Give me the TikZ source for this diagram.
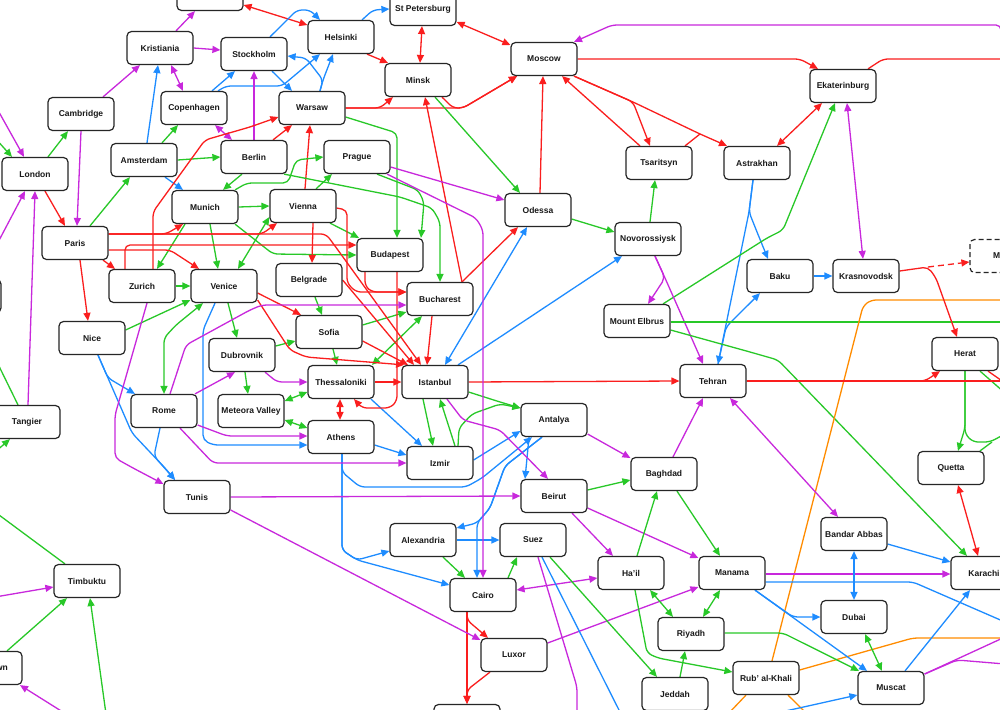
\documentclass[tikz,border=0pt]{standalone}
\usepackage{fontspec}
\setmainfont{Liberation Sans}
\usetikzlibrary{arrows.meta}
\pgfdeclarelayer{bg}
\pgfsetlayers{bg,main}
\definecolor{cR}{RGB}{250,30,30}
\definecolor{cG}{RGB}{40,200,40}
\definecolor{cB}{RGB}{30,140,255}
\definecolor{cM}{RGB}{200,40,220}
\definecolor{cO}{RGB}{255,140,0}
\begin{document}
\begin{tikzpicture}[x=1pt,y=-1pt,
 city/.style={draw=black!85,fill=white,rounded corners=4.5pt,line width=1.2pt,minimum width=66pt,minimum height=33pt,inner sep=0pt,font=\bfseries\fontsize{8.5}{10}\selectfont,text=black!90},
 ghost/.style={city,dashed,dash pattern=on 5pt off 3pt},
 ln/.style={line width=1.3pt,rounded corners=5pt},
 eR/.style={ln,draw=cR},
 eG/.style={ln,draw=cG},
 eB/.style={ln,draw=cB},
 eM/.style={ln,draw=cM},
 eO/.style={ln,draw=cO},
 ar/.style={-{Triangle[length=8pt,width=7pt]}},
 dar/.style={{Triangle[length=8pt,width=7pt]}-{Triangle[length=8pt,width=7pt]}},
]
\useasboundingbox (0,0) rectangle (1000,709);
% ---------- nodes ----------
\node[city] (tb) at (210,-6) {};
\node[city] (StP) at (423,9) {St Petersburg};
\node[city] (Hel) at (341,37) {Helsinki};
\node[city] (Sto) at (254,54) {Stockholm};
\node[city] (Kri) at (160,48) {Kristiania};
\node[city] (Min) at (418,80) {Minsk};
\node[city] (Mos) at (544,59) {Moscow};
\node[city] (Eka) at (843,86) {Ekaterinburg};
\node[city] (Cam) at (81,114) {Cambridge};
\node[city] (Cop) at (194,108) {Copenhagen};
\node[city] (War) at (312,108) {Warsaw};
\node[city] (Lon) at (35,174) {London};
\node[city] (Ams) at (144,160) {Amsterdam};
\node[city] (Ber) at (254,157) {Berlin};
\node[city] (Pra) at (357,157) {Prague};
\node[city] (Mun) at (205,207) {Munich};
\node[city] (Vie) at (303,206) {Vienna};
\node[city] (Par) at (75,243) {Paris};
\node[city] (Tsa) at (659,163) {Tsaritsyn};
\node[city] (Ast) at (757,163) {Astrakhan};
\node[city] (Ode) at (538,210) {Odessa};
\node[city] (Nov) at (648,239) {Novorossiysk};
\node[city] (Zur) at (142,286) {Zurich};
\node[city] (Ven) at (224,286) {Venice};
\node[city] (LB) at (-32,296) {};
\node[city] (Nic) at (92,338) {Nice};
\node[city] (Bud) at (390,255) {Budapest};
\node[city] (Bel) at (309,280) {Belgrade};
\node[city] (Buc) at (440,299) {Bucharest};
\node[city] (Sof) at (329,332) {Sofia};
\node[city] (Dub) at (242,355) {Dubrovnik};
\node[city] (The) at (341,382) {Thessaloniki};
\node[city] (Ist) at (435,382) {Istanbul};
\node[city] (Met) at (251,411) {Meteora Valley};
\node[city] (Ath) at (341,437) {Athens};
\node[city] (Rom) at (164,411) {Rome};
\node[city] (Tan) at (27,422) {Tangier};
\node[city] (Izm) at (440,463) {Izmir};
\node[city] (Ant) at (554,420) {Antalya};
\node[city] (Teh) at (713,381) {Tehran};
\node[city] (Elb) at (637,321) {Mount Elbrus};
\node[city] (Bak) at (780,276) {Baku};
\node[city] (Kra) at (866,276) {Krasnovodsk};
\node[ghost] (Mer) at (1003,256) {Merv};
\node[city] (Her) at (965,354) {Herat};
\node[city] (Que) at (951,468) {Quetta};
\node[city] (Bag) at (664,474) {Baghdad};
\node[city] (Bei) at (554,496) {Beirut};
\node[city] (Tun) at (197,497) {Tunis};
\node[city] (Ale) at (423,540) {Alexandria};
\node[city] (Sue) at (533,540) {Suez};
\node[city] (Hai) at (631,573) {Ha'il};
\node[city] (Man) at (732,573) {Manama};
\node[city] (Ban) at (854,534) {Bandar Abbas};
\node[city] (Kar) at (984,573) {Karachi};
\node[city] (Cai) at (483,595) {Cairo};
\node[city] (Tim) at (87,581) {Timbuktu};
\node[city] (Fre) at (-11,668) {Freetown};
\node[city] (Lux) at (514,655) {Luxor};
\node[city] (Riy) at (691,634) {Riyadh};
\node[city] (Dui) at (854,617) {Dubai};
\node[city] (Rub) at (766,678) {Rub' al-Khali};
\node[city] (Mus) at (891,688) {Muscat};
\node[city] (Jed) at (675,694) {Jeddah};
\node[city] (BB) at (467,721) {};
% ---------- free ends ----------
\coordinate (oA) at (-5,105);
\coordinate (oB) at (-5,138);
\coordinate (oC) at (-5,248);
\coordinate (oE) at (1005,322);
\coordinate (oF) at (1005,300);
\coordinate (oG) at (1005,638);
\coordinate (oH) at (728,714);
\coordinate (oI) at (807,714);
\coordinate (oJ) at (1005,434);
\coordinate (oK) at (1005,393);
\coordinate (oL) at (1005,383);
\coordinate (oM) at (1005,381);
\coordinate (oN) at (1005,59);
\coordinate (oP) at (1001,50);
\coordinate (oQ) at (577,714);
\coordinate (oR) at (621,714);
\coordinate (oS) at (1005,622);
\coordinate (oT) at (772,714);
\coordinate (oU) at (1005,637);
\coordinate (oV) at (1005,664);
\coordinate (oW) at (-5,358);
\coordinate (oX) at (-5,452);
\coordinate (oY) at (-5,512);
\coordinate (oZ) at (106,714);
\coordinate (oAA) at (-5,597);
\coordinate (oAB) at (66,714);
\begin{pgfonlayer}{bg}
\fill[white] (0,0) rectangle (1000,709);
% ---- north ----
\draw[eM,ar] ([xshift=16pt]Kri.north) -- ([xshift=-15pt]tb.south);
\draw[eR,dar] ([yshift=-11pt]tb.east) -- ([yshift=12pt]Hel.west);
\draw[eB,ar] ([xshift=16pt]Sto.north) -- (297,10) -- (310,10) -- ([xshift=-21pt]Hel.north);
\draw[eB,ar] ([xshift=21pt]Hel.north) -- (373,10) -- (StP.west);
\draw[eB,ar] ([xshift=8pt]War.north) -- (323,80) -- ([xshift=-8pt]Hel.south);
\draw[eB,ar] ([xshift=8pt]War.north) -- (323,80) -- (306,58) -- ([yshift=-2pt]Sto.east);
\draw[eB,ar] ([xshift=18pt]Sto.south) -- ([xshift=-20pt]War.north);
\draw[eB,ar] ([xshift=18pt]Cop.north) -- ([xshift=-19pt]Sto.south);
\draw[eB,ar] ([xshift=24pt]Cop.north) -- (226,86) -- (282,86) -- ([xshift=-21pt]Hel.south);
\draw[eM,ar] (Kri.east) -- ([yshift=4pt]Sto.west);
\draw[eM,dar] ([xshift=11pt]Kri.south) -- ([xshift=-11pt]Cop.north);
\draw[eB,ar] ([xshift=3pt]Ams.north) -- ([xshift=-2pt]Kri.south);
\draw[eM,ar] ([xshift=22pt]Cam.north) -- ([xshift=-20pt]Kri.south);
\draw[eG,ar] ([xshift=13pt]Lon.north) -- ([xshift=-13pt]Cam.south);
\draw[eM,ar] (Cam.south) -- ([xshift=2pt]Par.north);
\draw[eM,ar] (oA) -- ([xshift=-11pt]Lon.north);
\draw[eG,ar] (oB) -- ([xshift=-23pt]Lon.north);
\draw[eM,ar] (oC) -- ([xshift=-10pt]Lon.south);
\draw[eM,ar] ([xshift=1pt]Tan.north) -- (Lon.south);
\draw[eR,ar] ([xshift=10pt]Lon.south) -- ([xshift=-10pt]Par.north);
\draw[eG,ar] ([xshift=15pt]Par.north) -- ([xshift=-14pt]Ams.south);
\draw[eG,ar] (Ams.east) -- (Ber.west);
\draw[eG,ar] ([xshift=18pt]Ams.north) -- ([xshift=-16pt]Cop.south);
\draw[eB,ar] ([xshift=21pt]Ams.south) -- ([xshift=-22pt]Mun.north);
\draw[eM,dar] ([xshift=21pt]Cop.south) -- ([xshift=-22pt]Ber.north);
\draw[eM,ar] (Ber.north) -- (Sto.south);
\draw[eR,ar] ([xshift=11pt]Zur.north) -- (153,212) -- (205,140) -- (250,127) -- ([yshift=-9pt]War.west);
\draw[eR,ar] ([xshift=19pt]Ber.north) -- ([xshift=-20pt]War.south);
\draw[eR,ar] ([xshift=2pt]Vie.north) -- ([xshift=-2pt]War.south);
\draw[eR,ar] (War.east) -- (380,108) -- ([xshift=-25pt]Min.south);
\draw[eR,ar] (War.east) -- (463,108) -- ([xshift=-27pt]Mos.south);
\draw[eR,ar] ([xshift=24pt]Min.south) -- (453,108) -- (463,108) -- ([xshift=-27pt]Mos.south);
\draw[eR,ar] ([xshift=26pt]Hel.south) -- ([xshift=-30pt]Min.north);
\draw[eR,dar] ([xshift=-1pt]StP.south) -- ([xshift=2pt]Min.north);
\draw[eR,dar] ([yshift=-13pt]StP.east) -- ([yshift=14pt]Mos.west);
\draw[eR,ar] ([xshift=22pt]Buc.north) -- ([xshift=7pt]Min.south);
\draw[eG,ar] ([xshift=17pt]Min.south) -- ([xshift=-18pt]Ode.north);
\draw[eG,ar] ([yshift=-9pt]War.east) -- (397,133) -- ([xshift=7pt]Bud.north);
\draw[eG,ar] ([xshift=30pt]Mun.north) -- (247,183) -- (288,183) -- (296,160) -- (Pra.west);
\draw[eG,ar] ([xshift=13pt]Vie.north) -- ([xshift=-25pt]Pra.south);
\draw[eG,ar] ([xshift=30pt]Ber.south) -- (400,197) -- (432,208) -- (440,222) -- (Buc.north);
\draw[eG,ar] ([xshift=-12pt]Ber.south) -- ([xshift=18pt]Mun.north);
\draw[eG,ar] (Mun.east) -- (Vie.west);
\draw[eG,ar] ([xshift=27pt]Vie.south) -- ([xshift=-31pt]Bud.north);
\draw[eG,ar] ([xshift=20pt]Pra.south) -- (418,190) -- (424,202) -- ([xshift=31pt]Bud.north);
\draw[eG,ar] ([xshift=30pt]Mun.south) -- (273,254) -- (Bud.west);
\draw[eG,ar] ([xshift=-20pt]Mun.south) -- ([xshift=15pt]Zur.north);
\draw[eG,ar] ([xshift=5pt]Mun.south) -- ([xshift=-6pt]Ven.north);
\draw[eG,dar] ([xshift=14pt]Ven.north) -- ([yshift=-11pt]Vie.west);
% ---- Balkans ----
\draw[eG,ar] (Zur.east) -- (Ven.west);
\draw[eG,ar] ([yshift=8pt]Nic.east) -- ([yshift=-14pt]Ven.west);
\draw[eG,dar] (Rom.north) -- (164,338) -- (176,325) -- ([xshift=-21pt]Ven.south);
\draw[eG,ar] ([xshift=4pt]Ven.south) -- ([xshift=-5pt]Dub.north);
\draw[eG,ar] ([xshift=3pt]Dub.south) -- ([xshift=-3pt]Met.north);
\draw[eG,ar] ([yshift=9pt]Dub.east) -- ([yshift=-9pt]Sof.west);
\draw[eG,ar] ([xshift=6pt]Bel.south) -- ([xshift=-7pt]Sof.north);
\draw[eG,ar] ([xshift=4pt]Sof.south) -- ([xshift=-4pt]The.north);
\draw[eG,ar] ([yshift=7pt]Sof.east) -- ([yshift=-13pt]Buc.west);
\draw[eG,dar] ([xshift=-18pt]Buc.south) -- ([xshift=31pt]The.north);
\draw[eG,dar] ([yshift=-10pt]The.west) -- ([yshift=10pt]Met.east);
\draw[eG,dar] ([yshift=-9pt]Met.east) -- ([yshift=9pt]Ath.west);
\draw[eG,ar] ([xshift=-12pt]Ist.south) -- ([xshift=-7pt]Izm.north);
\draw[eG,ar] ([xshift=15pt]Izm.north) -- ([xshift=5pt]Ist.south);
\draw[eG,ar] ([yshift=-10pt]Ist.east) -- (500,402) -- ([yshift=12pt]Ant.west);
\draw[eG,ar] ([xshift=18pt]Izm.north) -- (459,428) -- (472,414) -- (500,404) -- ([yshift=12pt]Ant.west);
\draw[eB,ar] ([xshift=6pt]Nic.south) -- (108,378) -- ([xshift=-29pt]Rom.north);
\draw[eB,ar] ([xshift=6pt]Nic.south) -- (108,378) -- (132,433) -- (165,468) -- ([xshift=-22pt]Tun.north);
\draw[eB,ar] ([xshift=-4pt]Rom.south) -- (154,456) -- ([xshift=-22pt]Tun.north);
\draw[eB,ar] ([xshift=-9pt]Ven.south) -- (203,330) -- (203,440) -- (213,445) -- ([yshift=-8pt]Ath.west);
\draw[eB,ar] ([yshift=-8pt]Ath.east) -- ([yshift=8pt]Izm.west);
\draw[eB,ar] ([xshift=30pt]The.south) -- ([xshift=-18pt]Izm.north);
\draw[eB,ar] ([xshift=1pt]Ath.south) -- (342,550) -- (357,560) -- ([yshift=-11pt]Ale.west);
\draw[eB,ar] ([xshift=1pt]Ath.south) -- (342,550) -- (357,560) -- ([yshift=10pt]Cai.west);
\draw[eB,ar] ([xshift=1pt]Ath.south) -- (342,472) -- (360,487) -- (466,487) -- (482,478) -- ([xshift=-22pt]Ant.south);
\draw[eB,ar] ([yshift=3pt]Izm.east) -- ([yshift=-11pt]Ant.west);
\draw[eB,ar] ([xshift=-12pt]Ant.south) -- (505,466) -- (490,508) -- (477,523) -- ([yshift=12pt]Ale.east);
\draw[eB,ar] ([xshift=-12pt]Ant.south) -- (505,466) -- (490,508) -- (477,523) -- ([xshift=-6pt]Cai.north);
\draw[eB,ar] (Ale.east) -- (Sue.west);
\draw[eB,ar] ([xshift=-25pt]Ant.south) -- ([xshift=-29pt]Bei.north);
\draw[eB,ar] ([xshift=23pt]Ist.north) -- ([xshift=-26pt]Nov.south);
\draw[eB,dar] ([xshift=-11pt]Ode.south) -- ([xshift=10pt]Ist.north);
% ---- Russia / Caucasus ----
\draw[eB,ar] ([xshift=-4pt]Ast.south) -- (749,212) -- ([xshift=5pt]Teh.north);
\draw[eB,ar] ([xshift=-4pt]Ast.south) -- (749,212) -- (757,232) -- ([xshift=-12pt]Bak.north);
\draw[eB,ar] ([xshift=5pt]Teh.north) -- (726,327) -- ([xshift=-20pt]Bak.south);
\draw[eB,ar] (Bak.east) -- (Kra.west);
\draw[eG,ar] ([xshift=26pt]Elb.north) -- (767,238) -- (783,230) -- ([xshift=-8pt]Eka.south);
\draw[eM,dar] ([xshift=4pt]Eka.south) -- ([xshift=-3pt]Kra.north);
\draw[eM,ar] ([xshift=7pt]Nov.south) -- (665,278) -- ([xshift=11pt]Elb.north);
\draw[eM,ar] ([xshift=7pt]Nov.south) -- (665,278) -- ([xshift=-10pt]Teh.north);
\draw[eG,ar] ([xshift=2pt]Nov.north) -- ([xshift=-4pt]Tsa.south);
\draw[eG,ar] ([yshift=-9pt]Ode.east) -- ([yshift=7pt]Nov.west);
\draw[eG] ([yshift=-1pt]Elb.east) -- (oE);
\draw[eG,ar] ([yshift=-9pt]Elb.east) -- (750,352) -- (778,360) -- ([xshift=-17pt]Kar.north);
\draw[eO] ([xshift=6pt]Rub.north) -- (863,306) -- (871,300) -- (oF);
\draw[eO] ([yshift=8pt]Rub.east) -- (913,638) -- (oG);
\draw[eO] ([xshift=-20pt]Rub.south) -- (oH);
\draw[eO] ([xshift=22pt]Rub.south) -- (oI);
\draw[eG,ar] (Her.south) -- (965,428) -- ([xshift=7pt]Que.north);
\draw[eG] (Her.south) -- (965,434) -- (973,442) -- (990,442) -- (oJ);
\draw[eG] ([xshift=29pt]Que.north) -- (992,442);
\draw[eG] ([xshift=15pt]Her.south) -- (oK);
\draw[eR] ([xshift=23pt]Her.south) -- (oL);
\draw[eR,ar] (Teh.east) -- (925,381) -- ([xshift=-25pt]Her.south);
\draw[eR] (Teh.east) -- (oM);
\draw[eR,ar] ([yshift=5pt]Kra.east) -- (928,267) -- (936,278) -- ([xshift=-8pt]Her.north);
\draw[eR,ar,dash pattern=on 6pt off 4pt] (928,267) -- ([yshift=-6pt]Mer.west);
\draw[eR,dar] ([xshift=7pt]Que.south) -- ([xshift=-6pt]Kar.north);
\draw[eR,ar] (Mos.east) -- (800,59) -- ([xshift=-25pt]Eka.north);
\draw[eR] ([xshift=25pt]Eka.north) -- (883,59) -- (oN);
\draw[eM,ar] (oP) -- (1001,25) -- (612,25) -- ([xshift=30pt]Mos.north);
\draw[eR,ar] ([xshift=30pt]Mos.south) -- (633,102) -- (700,134) -- ([xshift=-30pt]Ast.north);
\draw[eR,ar] ([xshift=30pt]Mos.south) -- (633,102) -- ([xshift=-9pt]Tsa.north);
\draw[eR] ([xshift=26pt]Tsa.north) -- (700,134);
\draw[eR,ar] ([xshift=-19pt]Tsa.north) -- ([xshift=18pt]Mos.south);
\draw[eR,ar] ([xshift=2pt]Ode.north) -- ([xshift=-1pt]Mos.south);
\draw[eR,dar] ([xshift=20pt]Ast.north) -- ([xshift=-21pt]Eka.south);
\draw[eR,ar] ([xshift=22pt]Buc.north) -- ([xshift=-20pt]Ode.south);
% ---- red west ----
\draw[eR,ar] ([xshift=-16pt]Cai.south) -- (BB.north);
\draw[eR,ar] ([xshift=-16pt]Cai.south) -- (467,620) -- ([xshift=-26pt]Lux.north);
\draw[eR,ar] ([xshift=-24pt]Lux.south) -- (467,690) -- (BB.north);
\draw[eR,ar] ([xshift=28pt]Par.south) -- ([xshift=-27pt]Zur.north);
\draw[eR,ar] ([xshift=5pt]Par.south) -- ([xshift=-4pt]Nic.north);
\draw[eR,ar] ([yshift=-7pt]Par.east) -- (170,250) -- ([xshift=-25pt]Ven.north);
\draw[eR,ar] ([yshift=9pt]Par.east) -- (166,234) -- ([xshift=-22pt]Mun.south);
\draw[eR,ar] ([yshift=9pt]Par.east) -- (262,234) -- ([xshift=-26pt]Vie.south);
\draw[eR,ar] ([yshift=9pt]Par.east) -- (326,234) -- (335,246) -- ([xshift=-14pt]Ist.north);
\draw[eR,ar] ([xshift=-17pt]Zur.north) -- (125,245) -- ([yshift=10pt]Bud.west);
\draw[eR,ar] ([xshift=10pt]Vie.south) -- ([xshift=3pt]Bel.north);
\draw[eR,ar] ([yshift=-7pt]Ven.east) -- ([xshift=-28pt]Sof.north);
\draw[eR,ar] ([yshift=-14pt]Ven.east) -- (290,350) -- (306,357) -- ([xshift=-31pt]Ist.north);
\draw[eR,ar] ([yshift=-9pt]Sof.east) -- ([xshift=-27pt]Ist.north);
\draw[eR,ar] (Bel.east) -- ([xshift=-21pt]Ist.north);
\draw[eR,ar] ([xshift=-8pt]Buc.south) -- ([xshift=-8pt]Ist.north);
\draw[eR,ar] ([yshift=-2pt]Vie.east) -- (347,210) -- (347,283) -- (356,292) -- ([yshift=7pt]Buc.west);
\draw[eR,ar] ([xshift=-25pt]Bud.south) -- (365,286) -- (372,292) -- ([yshift=7pt]Buc.west);
\draw[eR,ar] ([xshift=7pt]Bud.south) -- (397,401) -- (390,408) -- (362,408) -- ([xshift=13pt]The.south);
\draw[eR,dar] ([xshift=-1pt]The.south) -- ([xshift=-1pt]Ath.north);
\draw[eR,ar] (The.east) -- (Ist.west);
\draw[eR,ar] (Ist.east) -- (Teh.west);
% ---- magenta ----
\draw[eM,ar] ([yshift=-10pt]Pra.east) -- ([yshift=10pt]Ode.west);
\draw[eM,ar] ([xshift=30pt]Pra.south) -- (476,218) -- (483,230) -- (Cai.north);
\draw[eM,ar] ([xshift=5pt]Zur.south) -- (115,415) -- (115,458) -- (133,468) -- ([yshift=13pt]Tun.west);
\draw[eM,ar] ([xshift=6pt]Rom.north) -- (186,345) -- (250,310) -- (262,305) -- ([yshift=-6pt]Buc.west);
\draw[eM,ar] ([xshift=31pt]Rom.north) -- ([xshift=-7pt]Dub.south);
\draw[eM,ar] ([xshift=23pt]Dub.south) -- (277,382) -- (The.west);
\draw[eM,ar] ([yshift=-14pt]Rom.east) -- (227,436) -- ([yshift=1pt]Ath.west);
\draw[eM,ar] ([xshift=16pt]Rom.south) -- (213,463) -- (Izm.west);
\draw[eM,ar] ([xshift=12pt]Ist.south) -- (463,420) -- (500,430) -- ([xshift=-6pt]Bei.north);
\draw[eM,ar] (Tun.east) -- (Bei.west);
\draw[eM,ar] ([yshift=-13pt]Tun.east) -- ([yshift=15pt]Lux.west);
\draw[eM,ar] ([yshift=-14pt]Ant.east) -- ([yshift=16pt]Bag.west);
\draw[eM,ar] ([xshift=9pt]Bag.north) -- ([xshift=-10pt]Teh.south);
\draw[eM,dar] ([xshift=17pt]Teh.south) -- ([xshift=-16pt]Ban.north);
\draw[eM,ar] ([xshift=18pt]Bei.south) -- ([xshift=-18pt]Hai.north);
\draw[eM,ar] ([yshift=-12pt]Bei.east) -- ([yshift=15pt]Man.west);
\draw[eM,dar] ([yshift=5pt]Cai.east) -- ([yshift=-5pt]Hai.west);
\draw[eM,ar] ([yshift=12pt]Lux.east) -- ([yshift=-14pt]Man.west);
\draw[eM] ([xshift=5pt]Sue.south) -- (577,687) -- (oQ);
\draw[eB] ([xshift=9pt]Sue.south) -- (oR);
\draw[eG,ar] ([xshift=17pt]Sue.south) -- ([xshift=-18pt]Jed.north);
\draw[eM,ar] ([yshift=-1pt]Man.east) -- ([yshift=-1pt]Kar.west);
\draw[eB] ([yshift=-9pt]Man.east) -- (913,582) -- (oS);
\draw[eB,ar] ([xshift=23pt]Man.south) -- ([xshift=-24pt]Mus.north);
\draw[eB,ar] ([xshift=23pt]Man.south) -- (793,617) -- (Dui.west);
\draw[eB,dar] (Ban.south) -- (Dui.north);
\draw[eB,ar] ([yshift=-10pt]Ban.east) -- ([yshift=11pt]Kar.west);
\draw[eB,ar] ([xshift=14pt]Mus.north) -- ([xshift=-14pt]Kar.south);
\draw[eB,ar] (oT) -- ([yshift=-7pt]Mus.west);
\draw[eM] ([yshift=14pt]Mus.east) -- (oU);
\draw[eM] ([yshift=14pt]Mus.east) -- (957,660) -- (oV);
\draw[eG,ar] ([yshift=1pt]Riy.east) -- (783,633) -- ([xshift=-32pt]Mus.north);
\draw[eG,dar] ([xshift=11pt]Dui.south) -- ([xshift=-9pt]Mus.north);
\draw[eG,ar] ([yshift=6pt]Bei.east) -- ([yshift=-6pt]Bag.west);
\draw[eG,ar] ([xshift=13pt]Bag.south) -- ([xshift=-12pt]Man.north);
\draw[eG,ar] ([xshift=6pt]Hai.north) -- ([xshift=-7pt]Bag.south);
\draw[eG,dar] ([xshift=19pt]Hai.south) -- ([xshift=-18pt]Riy.north);
\draw[eG,dar] ([xshift=-12pt]Man.south) -- ([xshift=12pt]Riy.north);
\draw[eG,ar] ([xshift=5pt]Jed.north) -- ([xshift=-6pt]Riy.south);
\draw[eG,ar] ([xshift=4pt]Hai.south) -- (647,653) -- (658,658) -- ([yshift=6pt]Rub.west);
\draw[eG,ar] ([xshift=25pt]Cai.north) -- ([xshift=-16pt]Sue.south);
\draw[eG,ar] ([xshift=20pt]Ale.south) -- ([xshift=-18pt]Cai.north);
% ---- Africa west ----
\draw[eG] ([xshift=-9pt]Tan.north) -- (oW);
\draw[eG,ar] (oX) -- ([xshift=-17pt]Tan.south);
\draw[eG] ([xshift=-22pt]Tim.north) -- (oY);
\draw[eG,ar] ([xshift=18pt]Fre.north) -- ([xshift=-20pt]Tim.south);
\draw[eG,ar] (oZ) -- ([xshift=3pt]Tim.south);
\draw[eM,ar] (oAA) -- ([yshift=-6pt]Tim.west);
\draw[eM,ar] (oAB) -- ([xshift=31pt]Fre.south);
\end{pgfonlayer}
\end{tikzpicture}
\end{document}
